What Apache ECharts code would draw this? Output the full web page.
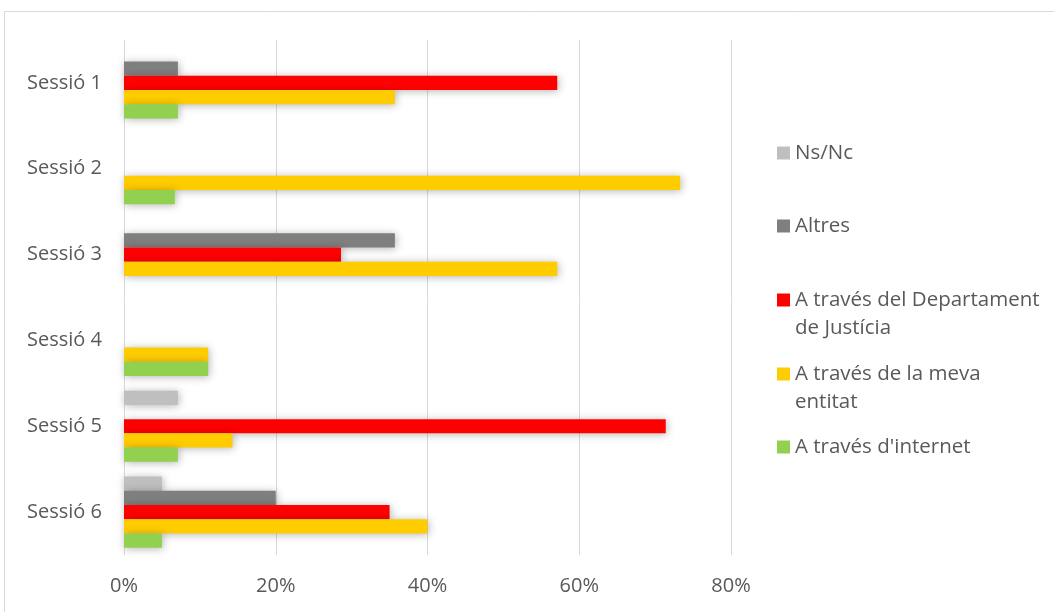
<!DOCTYPE html>
<html>
<head>
<meta charset="utf-8">
<script src="https://cdn.jsdelivr.net/npm/echarts@6/dist/echarts.min.js"></script>
<style>
  html, body { margin: 0; padding: 0; background: #fff; }
  #chart { width: 1054px; height: 612px; }
</style>
</head>
<body>
<div id="chart"></div>
<script>
const sessions = ['Sessió 1', 'Sessió 2', 'Sessió 3', 'Sessió 4', 'Sessió 5', 'Sessió 6']
const xTicks = [0, 20, 40, 60, 80]

// percentages per session
const nsnc     = [0, 0, 0, 0, 7.1, 5]
const altres   = [7.1, 0, 35.7, 0, 0, 20]
const justicia = [57.1, 0, 28.6, 0, 71.4, 35]
const entitat  = [35.7, 73.3, 57.1, 11.1, 14.3, 40]
const internet = [7.1, 6.7, 0, 11.1, 7.1, 5]

const names = ['Ns/Nc', 'Altres', 'A través del Departament de Justícia', 'A través de la meva entitat', "A través d'internet"]
// leading empty line keeps the first text line level with the icon
const labels = {
  'A través del Departament de Justícia': ' \nA través del Departament\nde Justícia',
  'A través de la meva entitat': ' \nA través de la meva\nentitat'
}
const colors = ['#bfbfbf', '#7f7f7f', '#ff0000', '#ffcc00', '#92d050']
const values = [nsnc, altres, justicia, entitat, internet]
const legendCenters = [153, 226, 300, 374, 447]

const font = '"Open Sans", Lato, sans-serif'
const txt = '#595959'

const chart = echarts.init(document.getElementById('chart'))

const series = names.map((n, i) => ({
  name: n,
  type: 'bar',
  data: values[i],
  barGap: 0,
  barCategoryGap: '17%',
  itemStyle: {
    color: colors[i],
    shadowColor: 'rgba(0,0,0,0.3)',
    shadowBlur: 8,
    shadowOffsetX: 1,
    shadowOffsetY: 1
  }
}))

const legends = names.map((n, i) => {
  const two = !!labels[n]
  return {
    orient: 'vertical',
    left: 777,
    top: two ? legendCenters[i] - 42 : legendCenters[i] - 14,
    padding: 0,
    icon: 'rect',
    itemWidth: 13,
    itemHeight: 13,
    itemGap: 0,
    itemTextGap: 7,
    selectedMode: false,
    data: [n],
    formatter: name => labels[name] || name,
    textStyle: { fontFamily: font, fontSize: 20.5, color: txt, lineHeight: 28 }
  }
})

chart.setOption({
  animation: false,
  graphic: [{
    type: 'rect',
    shape: { x: 4.5, y: 11.5, width: 1200, height: 800 },
    style: { fill: 'none', stroke: '#d9d9d9', lineWidth: 1 },
    silent: true
  }],
  legend: legends,
  grid: { left: 124, right: 323, top: 40, bottom: 57 },
  xAxis: {
    type: 'value',
    min: xTicks[0],
    max: xTicks[xTicks.length - 1],
    interval: 20,
    axisLine: { show: false },
    axisTick: { show: false },
    splitLine: { lineStyle: { color: '#d9d9d9', width: 1 } },
    axisLabel: { formatter: '{value}%', fontFamily: font, fontSize: 20, color: txt, margin: 21 }
  },
  yAxis: {
    type: 'category',
    data: sessions,
    inverse: true,
    axisLine: { show: false },
    axisTick: { show: false },
    axisLabel: { fontFamily: font, fontSize: 20, color: txt, margin: 22 }
  },
  series: series
})
</script>
</body>
</html>
